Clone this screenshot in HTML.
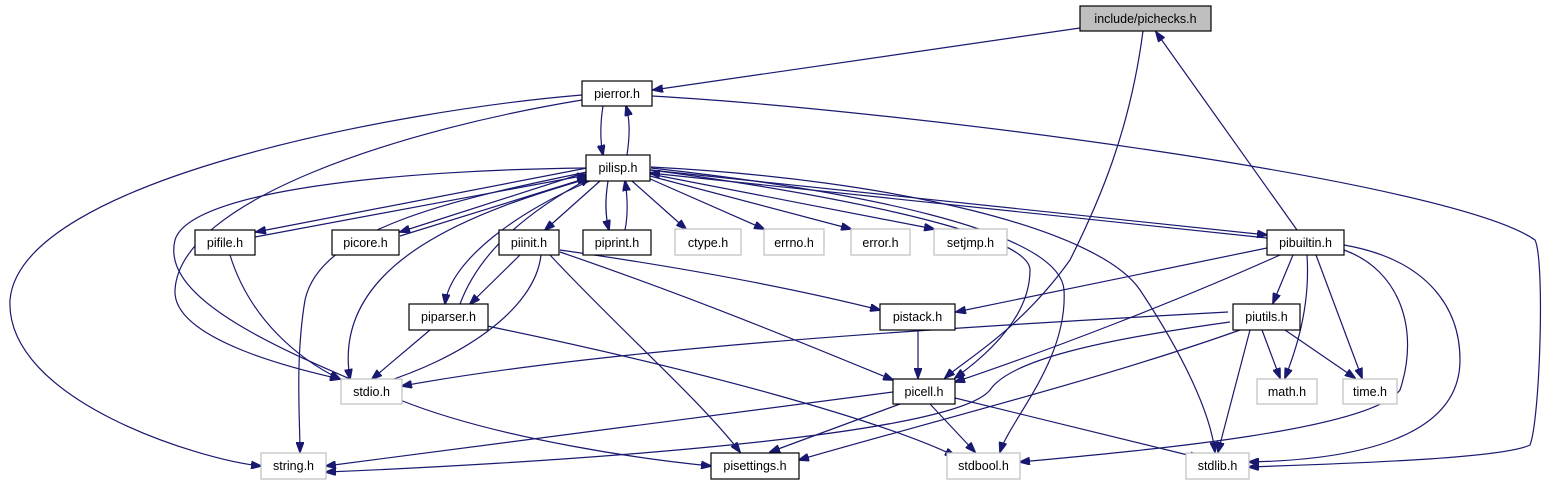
<!DOCTYPE html>
<html><head><meta charset="utf-8"><style>
html,body{margin:0;padding:0;background:#fff;}
svg{display:block;}
text{font-family:"Liberation Sans",sans-serif;font-size:12.5px;fill:#000;text-anchor:middle;}
.e{fill:none;stroke:#191970;stroke-width:1.2;marker-end:url(#a);}
.n{fill:#fff;stroke:#000;stroke-width:1.2;}
.g{fill:#fff;stroke:#bfbfbf;stroke-width:1.2;}
</style></head><body>
<svg width="1545" height="485" viewBox="0 0 1545 485" xmlns="http://www.w3.org/2000/svg">
<defs><marker id="a" markerWidth="11" markerHeight="8" refX="10" refY="4" orient="auto" markerUnits="userSpaceOnUse"><path d="M0,0 L11,4 L0,8 z" fill="#191970" stroke="#191970"/></marker></defs>
<g>
<path class="e" d="M1080,28 L653,90"/>
<path class="e" d="M1143,31 C1130,130 1100,200 1070,260 C1020,330 965,360 945,378"/>
<path class="e" d="M1297,230 L1156,32"/>
<path class="e" d="M603,106 C600,125 600,140 603,155"/>
<path class="e" d="M627,155 C630,135 630,120 626,106"/>
<path class="e" d="M582,95 C400,110 20,180 10,300 C5,400 200,460 261,466"/>
<path class="e" d="M582,100 C400,130 180,200 175,290 C172,340 300,370 340,379"/>
<path class="e" d="M652,96 C900,110 1450,180 1535,240 C1545,260 1540,420 1530,445 C1500,460 1300,465 1249,467"/>
<path class="e" d="M587,168 L256,232"/>
<path class="e" d="M255,237 L587,175"/>
<path class="e" d="M587,172 L400,232"/>
<path class="e" d="M400,236 L587,178"/>
<path class="e" d="M600,181 L545,230"/>
<path class="e" d="M608,181 C605,200 605,215 609,230"/>
<path class="e" d="M625,230 C628,215 628,200 625,181"/>
<path class="e" d="M632,181 L686,229"/>
<path class="e" d="M648,178 L764,229"/>
<path class="e" d="M650,176 L851,229"/>
<path class="e" d="M650,174 L934,229"/>
<path class="e" d="M650,170 L1267,235"/>
<path class="e" d="M1267,238 L650,173"/>
<path class="e" d="M590,181 C520,210 450,260 445,304"/>
<path class="e" d="M460,304 C480,250 530,210 590,178"/>
<path class="e" d="M587,172 C450,200 320,230 305,300 C295,360 300,420 300,452"/>
<path class="e" d="M590,178 C480,210 330,260 350,379"/>
<path class="e" d="M587,168 C400,170 190,190 175,240 C160,300 280,350 400,400 C500,440 650,460 711,466"/>
<path class="e" d="M651,170 C800,190 1030,230 1030,270 C1030,320 980,360 955,378"/>
<path class="e" d="M651,168 C850,190 1060,230 1064,290 C1068,360 1010,420 1000,452"/>
<path class="e" d="M651,167 C900,180 1100,230 1140,290 C1180,350 1210,410 1215,452"/>
<path class="e" d="M520,255 L470,304"/>
<path class="e" d="M541,255 C535,310 460,360 375,385"/>
<path class="e" d="M550,255 C620,330 700,400 740,452"/>
<path class="e" d="M560,252 C700,300 820,350 893,380"/>
<path class="e" d="M560,250 C700,270 800,290 880,310"/>
<path class="e" d="M230,255 C250,320 300,360 340,379"/>
<path class="e" d="M430,330 L372,379"/>
<path class="e" d="M487,326 C700,370 880,420 955,456"/>
<path class="e" d="M1267,248 L956,312"/>
<path class="e" d="M1280,255 C1180,300 1050,350 955,382"/>
<path class="e" d="M1293,255 L1273,303"/>
<path class="e" d="M1307,255 C1310,300 1300,340 1285,378"/>
<path class="e" d="M1316,255 L1362,378"/>
<path class="e" d="M1344,250 C1400,270 1420,330 1400,390 C1370,430 1150,450 1020,462"/>
<path class="e" d="M1344,245 C1430,260 1460,310 1460,360 C1460,440 1350,460 1249,462"/>
<path class="e" d="M918,330 L918,378"/>
<path class="e" d="M1228,312 C900,330 600,350 402,386"/>
<path class="e" d="M1230,322 C1100,340 1010,360 990,390 C950,440 500,465 326,472"/>
<path class="e" d="M1240,330 C1100,380 900,430 799,460"/>
<path class="e" d="M1262,330 L1280,378"/>
<path class="e" d="M1285,330 L1355,378"/>
<path class="e" d="M1250,330 L1218,452"/>
<path class="e" d="M893,392 L326,466"/>
<path class="e" d="M900,404 L770,452"/>
<path class="e" d="M930,404 L975,452"/>
<path class="e" d="M955,398 L1200,458"/>
</g>
<g>
<rect x="1080" y="6" width="131" height="25" fill="#bfbfbf" stroke="#000" stroke-width="1.2"/><text x="1145.5" y="23">include/pichecks.h</text>
<rect class="n" x="582" y="81" width="70" height="25"/><text x="617" y="98">pierror.h</text>
<rect class="n" x="586" y="155" width="64" height="26"/><text x="618" y="172">pilisp.h</text>
<rect class="n" x="195" y="230" width="60" height="25"/><text x="225" y="247">pifile.h</text>
<rect class="n" x="332" y="230" width="67" height="25"/><text x="365.5" y="247">picore.h</text>
<rect class="n" x="499" y="230" width="60" height="25"/><text x="529" y="247">piinit.h</text>
<rect class="n" x="583" y="230" width="68" height="25"/><text x="617" y="247">piprint.h</text>
<rect class="g" x="675" y="229" width="66" height="26"/><text x="708" y="247">ctype.h</text>
<rect class="g" x="764" y="229" width="60" height="26"/><text x="794" y="247">errno.h</text>
<rect class="g" x="851" y="229" width="59" height="26"/><text x="880.5" y="247">error.h</text>
<rect class="g" x="934" y="229" width="73" height="26"/><text x="970.5" y="247">setjmp.h</text>
<rect class="n" x="1267" y="230" width="77" height="25"/><text x="1305.5" y="247">pibuiltin.h</text>
<rect class="n" x="409" y="304" width="79" height="26"/><text x="448.5" y="321">piparser.h</text>
<rect class="n" x="880" y="304" width="75" height="26"/><text x="917.5" y="321">pistack.h</text>
<rect class="n" x="1233" y="304" width="67" height="26"/><text x="1266.5" y="321">piutils.h</text>
<rect class="g" x="341" y="379" width="61" height="25"/><text x="371.5" y="396">stdio.h</text>
<rect class="n" x="893" y="379" width="62" height="25"/><text x="924" y="396">picell.h</text>
<rect class="g" x="1257" y="379" width="60" height="25"/><text x="1287" y="396">math.h</text>
<rect class="g" x="1343" y="379" width="54" height="25"/><text x="1370" y="396">time.h</text>
<rect class="g" x="261" y="453" width="65" height="26"/><text x="293.5" y="470">string.h</text>
<rect class="n" x="711" y="453" width="88" height="26"/><text x="755" y="470">pisettings.h</text>
<rect class="g" x="947" y="453" width="73" height="26"/><text x="983.5" y="470">stdbool.h</text>
<rect class="g" x="1186" y="453" width="63" height="26"/><text x="1217.5" y="470">stdlib.h</text>
</g>
</svg>
</body></html>
